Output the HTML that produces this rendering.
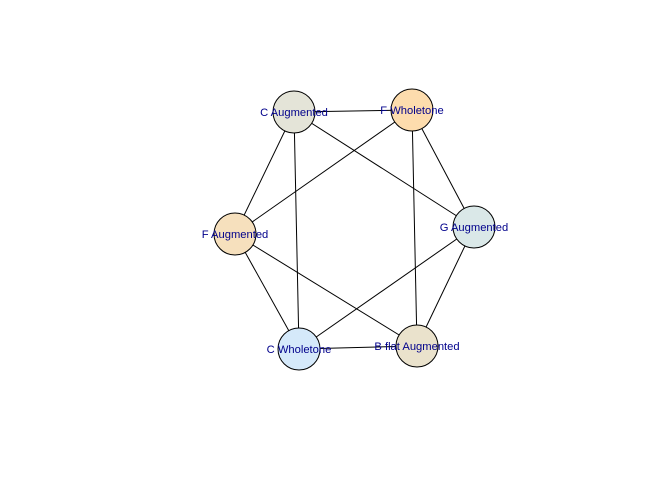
<!DOCTYPE html>
<html><head><meta charset="utf-8"><style>body{margin:0;background:#fff}svg{display:block}text{font-family:"Liberation Sans",sans-serif;font-size:11.2px;fill:#00008b}</style></head>
<body>
<svg id="g" width="672" height="480"></svg>
<script>
const nodeNames=["C Augmented","F Wholetone","G Augmented","B flat Augmented","C Wholetone","F Augmented"];
const nodeX=[294,412,474,417,299,235];
const nodeY=[112,110,227,346,349,234];
const nodeColors=["#e4e4d8","#fddcad","#dae8e8","#eae2cc","#d5e9fa","#f6e0bd"];
const edgeFrom=[0,0,0,0,1,1,1,2,2,3,3,5];
const edgeTo=[1,5,2,4,5,2,3,4,3,4,5,4];
const NS="http://www.w3.org/2000/svg";
const svg=document.getElementById('g');
for(let i=0;i<edgeFrom.length;i++){
  const l=document.createElementNS(NS,'line');
  l.setAttribute('x1',nodeX[edgeFrom[i]]);l.setAttribute('y1',nodeY[edgeFrom[i]]);
  l.setAttribute('x2',nodeX[edgeTo[i]]);l.setAttribute('y2',nodeY[edgeTo[i]]);
  l.setAttribute('stroke','#000');l.setAttribute('stroke-width','1');
  
  
  svg.appendChild(l);
}
for(let i=0;i<nodeNames.length;i++){
  const c=document.createElementNS(NS,'circle');
  c.setAttribute('cx',nodeX[i]);c.setAttribute('cy',nodeY[i]);c.setAttribute('r',21);
  c.setAttribute('fill',nodeColors[i]);c.setAttribute('stroke','#000');c.setAttribute('stroke-width','1');
  
  
  svg.appendChild(c);
}
for(let i=0;i<nodeNames.length;i++){
  const t=document.createElementNS(NS,'text');
  t.setAttribute('x',nodeX[i]);t.setAttribute('y',nodeY[i]+4);t.setAttribute('text-anchor','middle');
  t.textContent=nodeNames[i];
  
  
  svg.appendChild(t);
}
</script>
</body></html>
